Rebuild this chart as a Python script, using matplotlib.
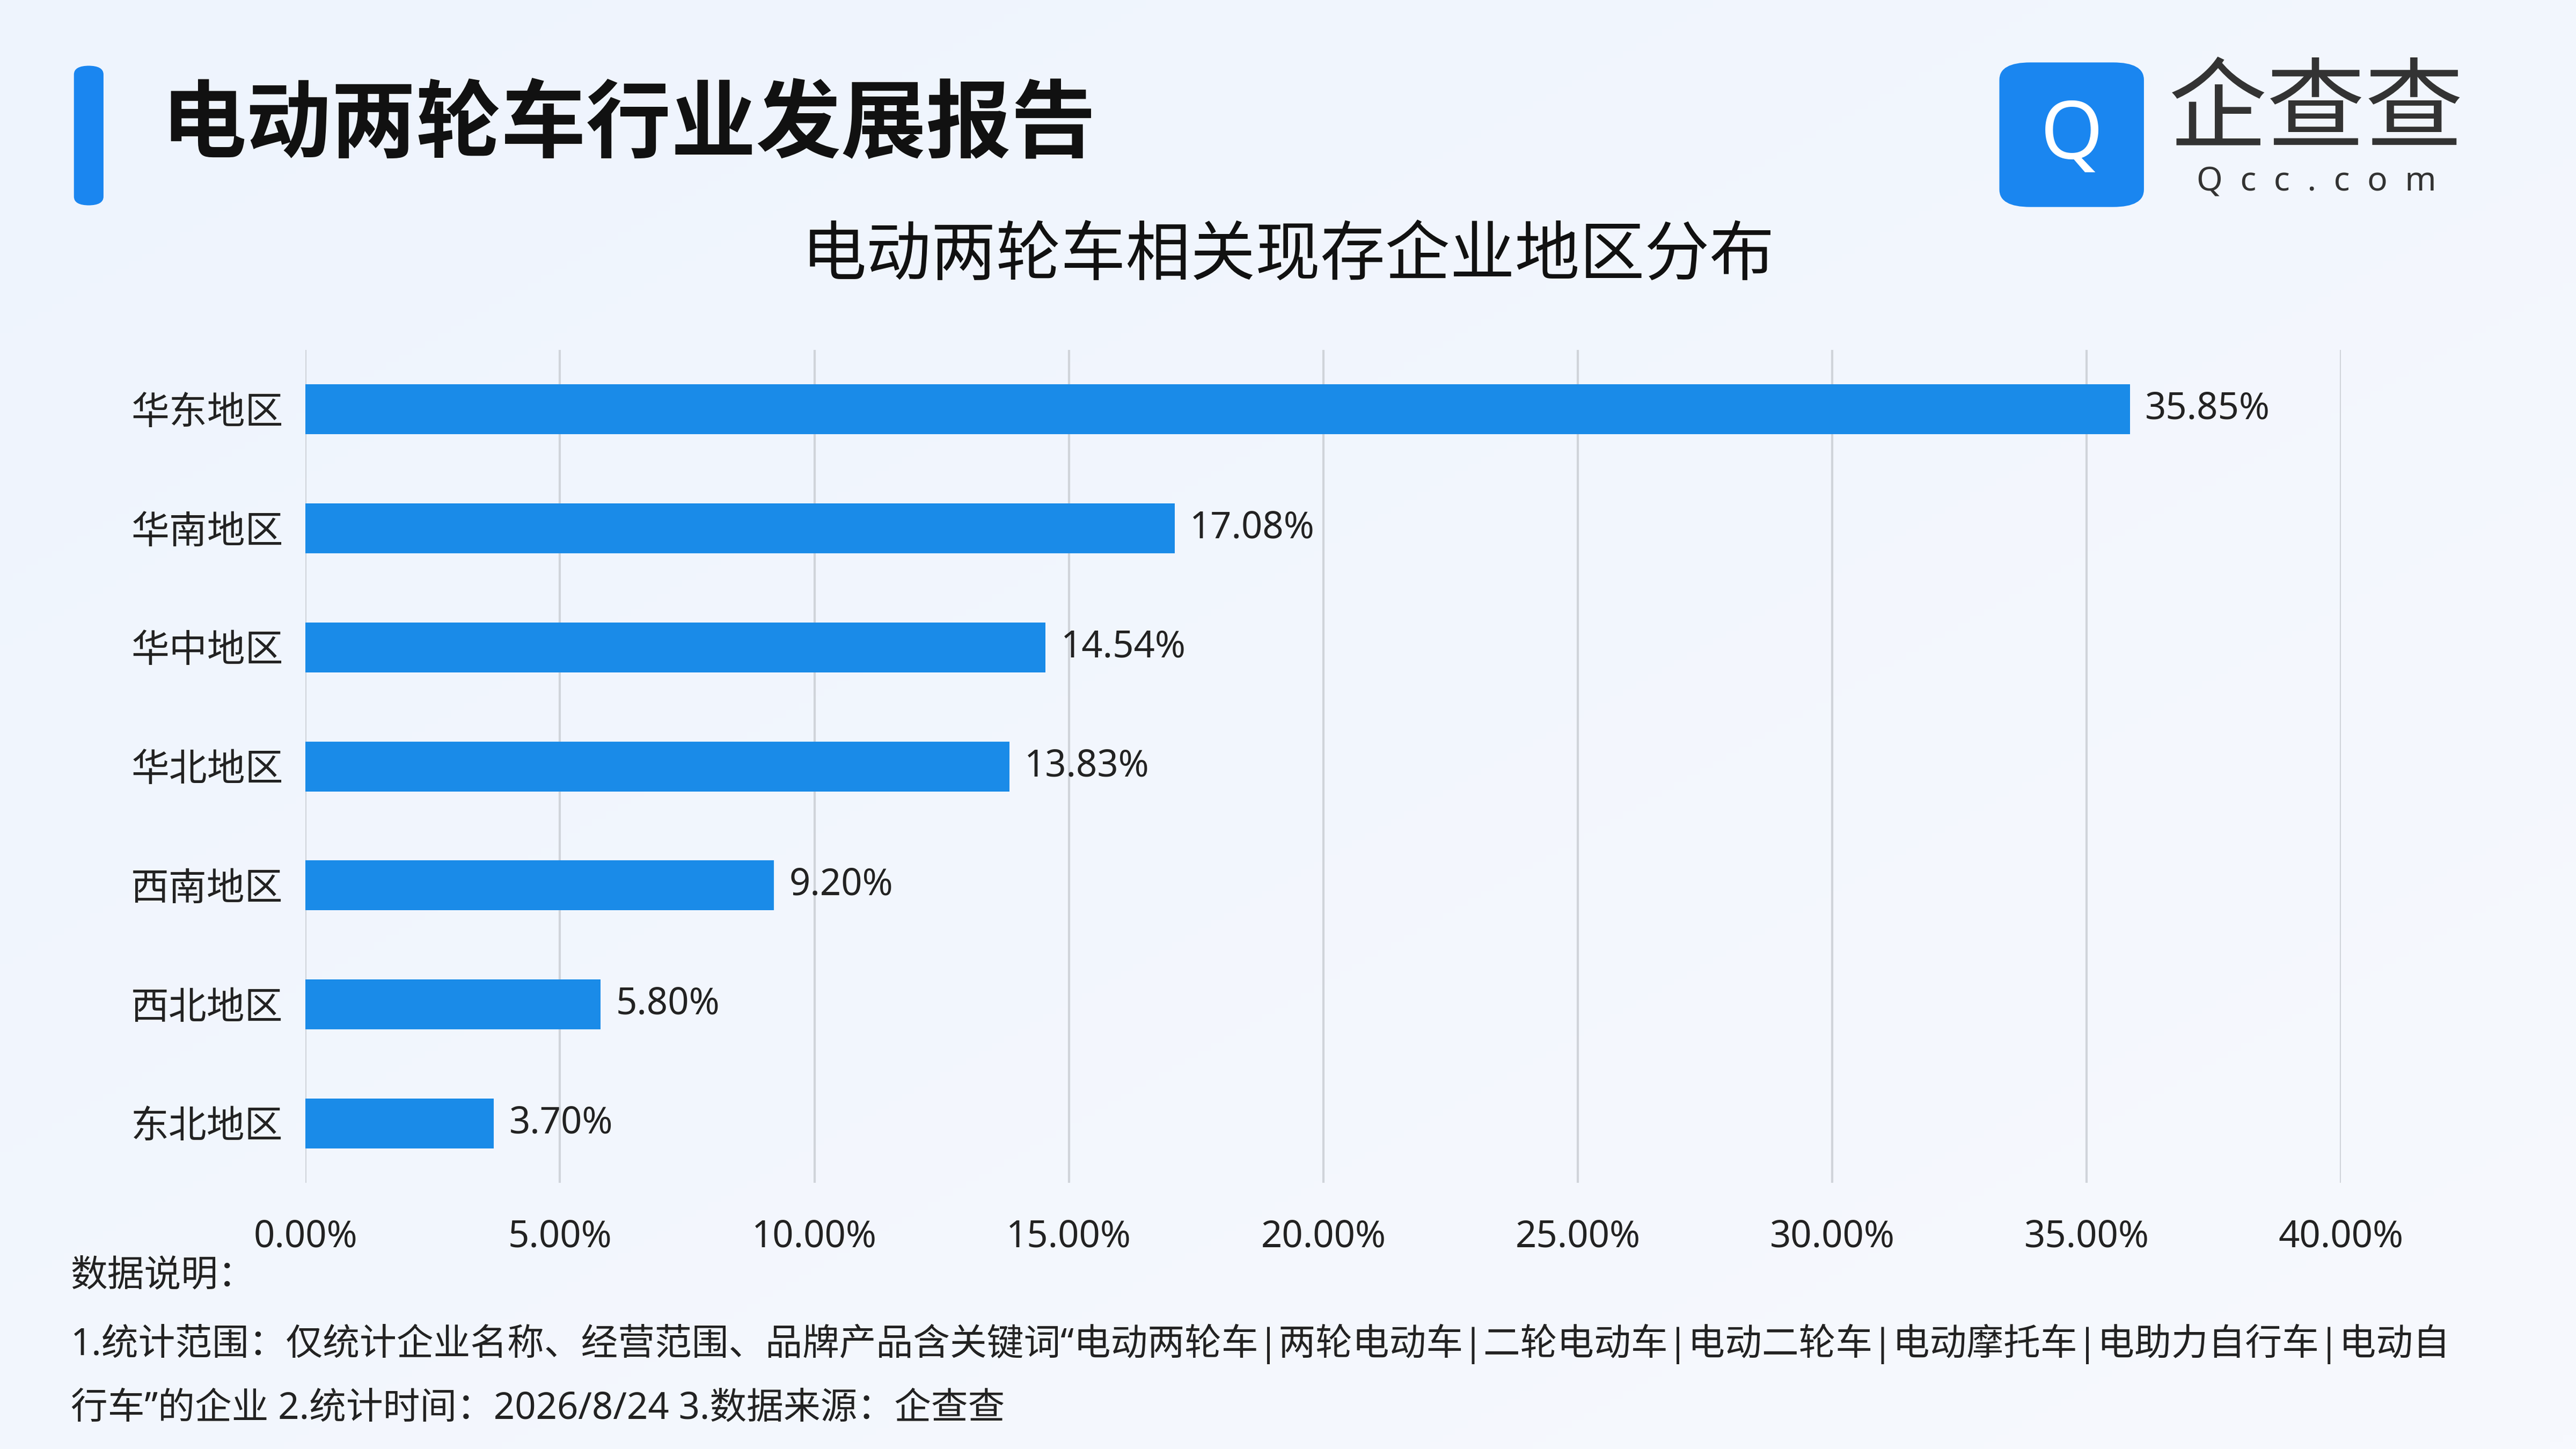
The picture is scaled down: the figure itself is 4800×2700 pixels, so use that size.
import numpy as np
import matplotlib.pyplot as plt
from matplotlib.patches import FancyBboxPatch

plt.rcParams['font.family'] = ['Noto Sans', 'Noto Sans CJK SC', 'DejaVu Sans']

regions = ["华东地区", "华南地区", "华中地区", "华北地区", "西南地区", "西北地区", "东北地区"]
shares = [35.85, 17.08, 14.54, 13.83, 9.20, 5.80, 3.70]
xticks = [0, 5, 10, 15, 20, 25, 30, 35, 40]

W, H = 1568, 882
fig = plt.figure(figsize=(16, 9), dpi=300)

# background gradient
bg = fig.add_axes([0, 0, 1, 1], zorder=-10)
yy, xx = np.mgrid[0:1:200j, 0:1:200j]
g = 0.5 * xx + 0.5 * (1 - yy)
bg.imshow(g, cmap=plt.matplotlib.colors.LinearSegmentedColormap.from_list(
    "bg", ["#eef4fd", "#f7f9fe"]), extent=[0, 1, 0, 1], aspect="auto", origin="lower")
bg.set_xlim(0, 1); bg.set_ylim(0, 1); bg.axis("off")

def fx(px): return px / W
def fy(py): return 1 - py / H

# header accent bar
bg.add_patch(FancyBboxPatch((fx(45), fy(125)), fx(18), fy(40) - fy(125),
                            boxstyle="round,pad=0,rounding_size=0.006",
                            fc="#1a86f0", ec="none", transform=bg.transAxes))
fig.text(fx(98), fy(78), "电动两轮车行业发展报告", fontsize=38, fontweight="bold",
         color="#111111", va="center", ha="left")

# logo
bg.add_patch(FancyBboxPatch((fx(1217), fy(126)), fx(88), fy(38) - fy(126),
                            boxstyle="round,pad=0,rounding_size=0.012",
                            fc="#1a86f0", ec="none", transform=bg.transAxes))
fig.text(fx(1261), fy(84), "Q", fontsize=36, fontweight="bold", color="white",
         ha="center", va="center")
fig.text(fx(1410), fy(70), "企查查", fontsize=44, color="#333333", ha="center", va="center")
fig.text(fx(1410), fy(111), "Q  c  c  .  c  o  m", fontsize=15, fontweight="bold",
         color="#333333", ha="center", va="center")

fig.text(fx(784), fy(157), "电动两轮车相关现存企业地区分布", fontsize=29,
         color="#111111", ha="center", va="center")

ax = fig.add_axes([fx(186), fy(720), fx(1425) - fx(186), fy(213) - fy(720)])
ax.set_facecolor("none")
y = np.arange(len(regions))
ax.barh(y, shares, height=0.42, color="#1a8be8", zorder=3)
for yi, v in zip(y, shares):
    ax.text(v + 0.3, yi, f"{v:.2f}%", va="center", ha="left", fontsize=16.5, color="#222222")
ax.set_ylim(len(regions) - 0.5, -0.5)
ax.set_xlim(0, 40)
ax.set_yticks(y)
ax.set_yticklabels(regions, fontsize=17, color="#222222")
ax.set_xticks(xticks)
ax.set_xticklabels([f"{t:.2f}%" for t in xticks], fontsize=16.5, color="#222222")
ax.tick_params(length=0, pad=10)
ax.tick_params(axis="x", pad=16)
ax.grid(axis="x", color="#d0d4da", linewidth=1, zorder=0)
for s in ax.spines.values():
    s.set_visible(False)

fig.text(fx(43), fy(777), "数据说明：", fontsize=16.5, color="#222222", va="center")
fig.text(fx(43), fy(818), "1.统计范围：仅统计企业名称、经营范围、品牌产品含关键词“电动两轮车|两轮电动车|二轮电动车|电动二轮车|电动摩托车|电助力自行车|电动自",
         fontsize=16.5, color="#222222", va="center")
fig.text(fx(43), fy(858), "行车”的企业 2.统计时间：2026/8/24 3.数据来源：企查查",
         fontsize=16.5, color="#222222", va="center")

fig.savefig("out.png", dpi=300)
